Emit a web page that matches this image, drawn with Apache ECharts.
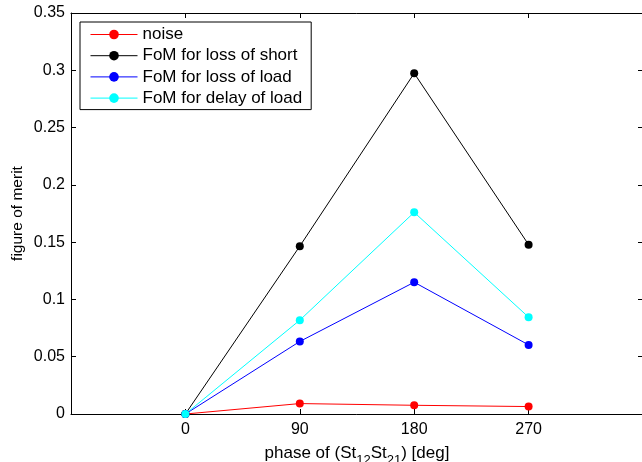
<!DOCTYPE html>
<html>
<head>
<meta charset="utf-8">
<script src="https://cdn.jsdelivr.net/npm/echarts@6/dist/echarts.min.js"></script>
<style>
  html, body { margin: 0; padding: 0; background: #fff; }
  #main { width: 642px; height: 462px; }
</style>
</head>
<body>
<div id="main"></div>
<script>
// phase values (deg)
var phases = [0, 90, 180, 270];
var xTicks = [0, 90, 180, 270];

// figure of merit per series
var noise      = [0, 0.0091, 0.0076, 0.0065];
var lossShort  = [0, 0.1465, 0.2974, 0.1478];
var lossLoad   = [0, 0.0633, 0.1150, 0.0603];
var delayLoad  = [0, 0.0819, 0.1760, 0.0845];

var names = ['noise', 'FoM for loss of short', 'FoM for loss of load', 'FoM for delay of load'];
var colors = ['#ff0000', '#000000', '#0000ff', '#00ffff'];
var values = [noise, lossShort, lossLoad, delayLoad];

var FONT = 'Liberation Sans, Arial, Helvetica, sans-serif';

function pairs(ys) {
  var out = [];
  for (var i = 0; i < phases.length; i++) {
    out.push([phases[i], ys[i]]);
  }
  return out;
}

var seriesList = [];
for (var i = 0; i < names.length; i++) {
  seriesList.push({
    name: names[i],
    type: 'line',
    data: pairs(values[i]),
    symbol: 'circle',
    symbolSize: 8,
    showSymbol: true,
    color: colors[i],
    lineStyle: { width: 1, color: colors[i] },
    itemStyle: { color: colors[i] },
    emphasis: { disabled: true },
    animation: false
  });
}

var chart = echarts.init(document.getElementById('main'));

var tickStyle = { show: true, inside: true, length: 5, lineStyle: { color: '#000', width: 1 } };
var lineStyle = { show: true, onZero: false, lineStyle: { color: '#000', width: 1 } };

var option = {
  backgroundColor: '#fff',
  animation: false,
  grid: { left: 71, right: -1, top: 13, bottom: 48, containLabel: false, outerBoundsMode: 'none' },
  legend: {
    orient: 'vertical',
    left: 80,
    top: 22,
    padding: [4, 9, 3, 10],
    itemGap: 4.2,
    itemWidth: 47,
    itemHeight: 12,
    backgroundColor: '#fff',
    borderColor: '#000',
    borderWidth: 1,
    lineStyle: { width: 1 },
    textStyle: { fontFamily: FONT, fontSize: 17, color: '#000' },
    data: names
  },
  xAxis: [{
    type: 'value',
    min: -90,
    max: 360,
    interval: 90,
    position: 'bottom',
    axisLine: lineStyle,
    axisTick: tickStyle,
    splitLine: { show: false },
    axisLabel: {
      fontFamily: FONT, fontSize: 16, color: '#000', margin: 8,
      formatter: function (v) { return xTicks.indexOf(v) >= 0 ? String(v) : ''; }
    },
    name: '{a|phase of (St}{s|12}{a|St}{s|21}{a|) [deg]}',
    nameLocation: 'middle',
    nameGap: 31,
    nameMoveOverlap: false,
    nameTextStyle: {
      rich: {
        a: { fontFamily: FONT, fontSize: 17, color: '#000', lineHeight: 17 },
        s: { fontFamily: FONT, fontSize: 13, color: '#000', lineHeight: 13, padding: [13, 0, 0, 0] }
      }
    }
  }, {
    type: 'value',
    min: -90,
    max: 360,
    interval: 90,
    position: 'top',
    axisLine: lineStyle,
    axisTick: tickStyle,
    splitLine: { show: false },
    axisLabel: { show: false }
  }],
  yAxis: [{
    type: 'value',
    min: 0,
    max: 0.35,
    interval: 0.05,
    position: 'left',
    axisLine: lineStyle,
    axisTick: tickStyle,
    splitLine: { show: false },
    axisLabel: { fontFamily: FONT, fontSize: 16, color: '#000', margin: 6 },
    name: 'figure of merit',
    nameLocation: 'middle',
    nameGap: 45,
    nameMoveOverlap: false,
    nameTextStyle: { fontFamily: FONT, fontSize: 15.5, color: '#000' }
  }, {
    type: 'value',
    min: 0,
    max: 0.35,
    interval: 0.05,
    position: 'right',
    axisLine: lineStyle,
    axisTick: tickStyle,
    splitLine: { show: false },
    axisLabel: { show: false }
  }],
  series: seriesList
};

chart.setOption(option);
</script>
</body>
</html>
